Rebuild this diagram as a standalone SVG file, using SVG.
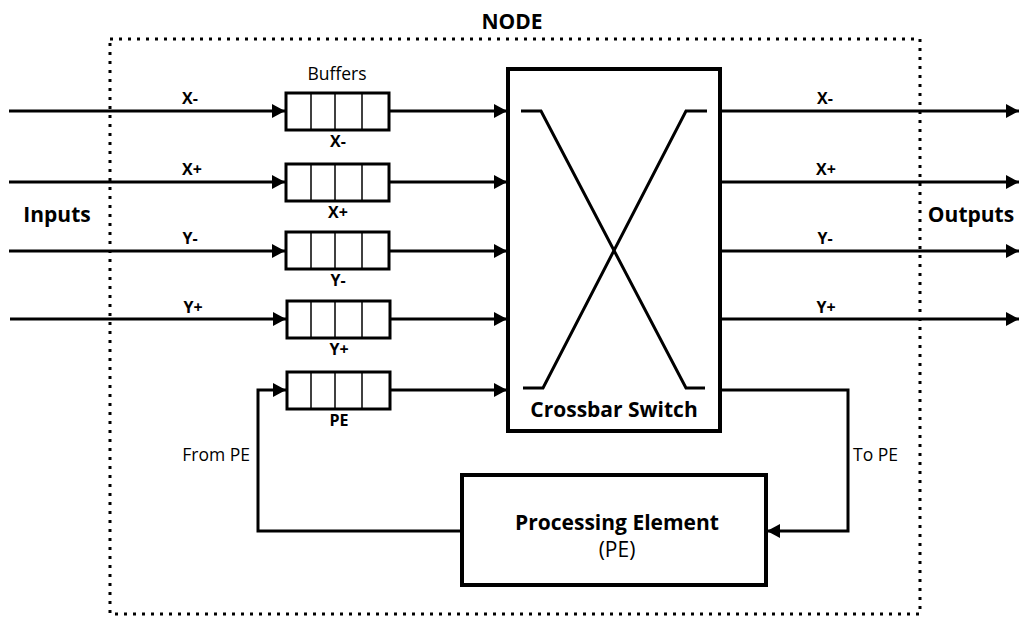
<svg xmlns="http://www.w3.org/2000/svg" width="1019" height="618" viewBox="0 0 1019 618">
<style>
text{font-family:"Open Sans","Noto Sans",sans-serif;fill:#000}
.lbl{font-size:16px;font-weight:bold;text-anchor:middle}
.big{font-size:21px;font-weight:bold}
.thin{font-size:17.5px}
.wire{stroke:#000;stroke-width:3;fill:none}
.box{stroke:#000;stroke-width:4;fill:#fff}
.buf{stroke:#000;stroke-width:3;fill:#fff}
.div{stroke:#000;stroke-width:1.5}
</style>
<defs>
<marker id="ah" markerWidth="14" markerHeight="14" refX="13" refY="7" orient="auto" markerUnits="userSpaceOnUse">
<path d="M0,0 L13,7 L0,14 Z" fill="#000"/>
</marker>
</defs>
<rect x="0" y="0" width="1019" height="618" fill="#fff"/>
<g id="node-boundary">
<rect x="110" y="39" width="810" height="575" fill="none" stroke="#000" stroke-width="3" stroke-dasharray="3 6"/>
<text x="512" y="29" class="big" font-size="22.5" text-anchor="middle">NODE</text>
</g>
<g id="inputs-label"><text x="57" y="222" class="big" text-anchor="middle">Inputs</text></g>
<g id="outputs-label"><text x="971" y="222" class="big" text-anchor="middle">Outputs</text></g>
<g id="connectors">
<line class="wire" x1="9" y1="111" x2="285" y2="111" marker-end="url(#ah)"/>
<line class="wire" x1="9" y1="182" x2="285" y2="182" marker-end="url(#ah)"/>
<line class="wire" x1="9" y1="251" x2="285" y2="251" marker-end="url(#ah)"/>
<line class="wire" x1="10" y1="319" x2="286" y2="319" marker-end="url(#ah)"/>
<line class="wire" x1="389" y1="111" x2="507" y2="111" marker-end="url(#ah)"/>
<line class="wire" x1="389" y1="182" x2="507" y2="182" marker-end="url(#ah)"/>
<line class="wire" x1="389" y1="251" x2="507" y2="251" marker-end="url(#ah)"/>
<line class="wire" x1="390" y1="319" x2="507" y2="319" marker-end="url(#ah)"/>
<line class="wire" x1="390" y1="390" x2="507" y2="390" marker-end="url(#ah)"/>
<line class="wire" x1="720" y1="111" x2="1019" y2="111" marker-end="url(#ah)"/>
<line class="wire" x1="720" y1="182" x2="1019" y2="182" marker-end="url(#ah)"/>
<line class="wire" x1="720" y1="251" x2="1019" y2="251" marker-end="url(#ah)"/>
<line class="wire" x1="720" y1="319" x2="1019" y2="319" marker-end="url(#ah)"/>
<polyline class="wire" points="461,531 258,531 258,390 286,390" marker-end="url(#ah)"/>
<polyline class="wire" points="720,390 848,390 848,531 767,531" marker-end="url(#ah)"/>
<text x="190" y="104" class="lbl">X-</text>
<text x="192" y="175" class="lbl">X+</text>
<text x="190" y="244" class="lbl">Y-</text>
<text x="193" y="313" class="lbl">Y+</text>
<text x="825" y="104" class="lbl">X-</text>
<text x="826" y="175" class="lbl">X+</text>
<text x="825" y="244" class="lbl">Y-</text>
<text x="826" y="313" class="lbl">Y+</text>
<text x="250" y="461" class="thin" text-anchor="end">From PE</text>
<text x="853" y="461" class="thin">To PE</text>
</g>
<g id="buffers-label"><text x="337" y="80" class="thin" text-anchor="middle">Buffers</text></g>
<g id="buffer-xminus">
<rect class="buf" x="286" y="93" width="103" height="37"/>
<line class="div" x1="311" y1="93" x2="311" y2="130"/><line class="div" x1="335" y1="93" x2="335" y2="130"/><line class="div" x1="362" y1="93" x2="362" y2="130"/>
<text x="338" y="147" class="lbl">X-</text>
</g>
<g id="buffer-xplus">
<rect class="buf" x="286" y="164" width="103" height="37"/>
<line class="div" x1="311" y1="164" x2="311" y2="201"/><line class="div" x1="335" y1="164" x2="335" y2="201"/><line class="div" x1="362" y1="164" x2="362" y2="201"/>
<text x="338" y="218" class="lbl">X+</text>
</g>
<g id="buffer-yminus">
<rect class="buf" x="286" y="232" width="103" height="37"/>
<line class="div" x1="311" y1="232" x2="311" y2="269"/><line class="div" x1="335" y1="232" x2="335" y2="269"/><line class="div" x1="362" y1="232" x2="362" y2="269"/>
<text x="338" y="286" class="lbl">Y-</text>
</g>
<g id="buffer-yplus">
<rect class="buf" x="287" y="301" width="103" height="37"/>
<line class="div" x1="311" y1="301" x2="311" y2="338"/><line class="div" x1="335" y1="301" x2="335" y2="338"/><line class="div" x1="362" y1="301" x2="362" y2="338"/>
<text x="339" y="355" class="lbl">Y+</text>
</g>
<g id="buffer-pe">
<rect class="buf" x="287" y="372" width="103" height="37"/>
<line class="div" x1="311" y1="372" x2="311" y2="409"/><line class="div" x1="335" y1="372" x2="335" y2="409"/><line class="div" x1="362" y1="372" x2="362" y2="409"/>
<text x="339" y="426" class="lbl">PE</text>
</g>
<g id="crossbar">
<rect class="box" x="508" y="69" width="212" height="362"/>
<polyline points="521,111 541,111 686,388 705,388" fill="none" stroke="#000" stroke-width="3"/>
<polyline points="707,111 686,111 543,388 523,388" fill="none" stroke="#000" stroke-width="3"/>
<text x="614" y="417" class="big" text-anchor="middle">Crossbar Switch</text>
</g>
<g id="processing-element">
<rect class="box" x="462" y="475" width="304" height="110"/>
<text x="617" y="530" class="big" text-anchor="middle">Processing Element</text>
<text x="617" y="557" font-size="21" text-anchor="middle">(PE)</text>
</g>
</svg>
